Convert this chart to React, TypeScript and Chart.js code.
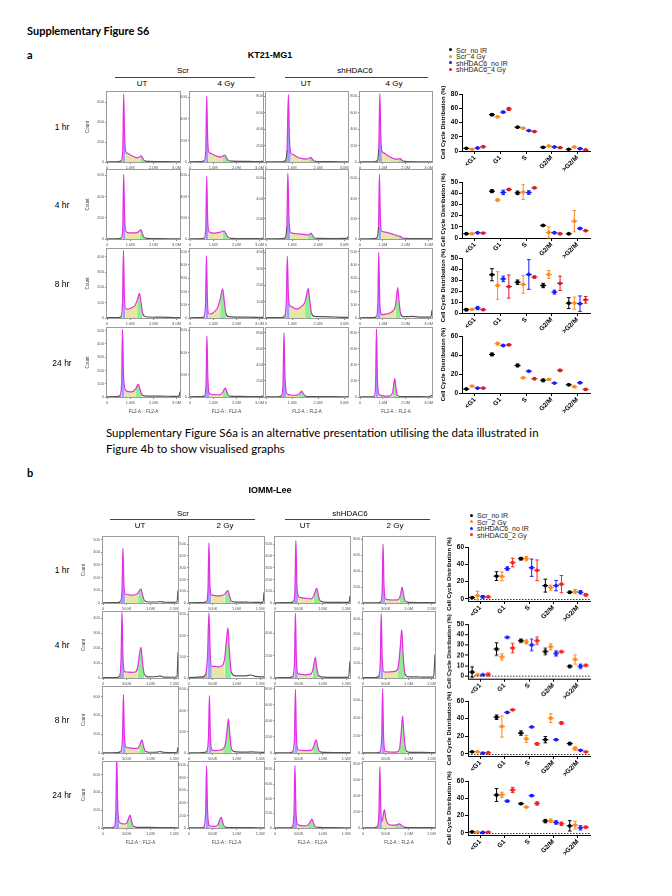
import React, { useEffect, useRef } from "react";
import { Chart, registerables } from "chart.js";

Chart.register(...registerables);
Chart.defaults.font.family = "'Liberation Sans', Arial, sans-serif";

// ---------------- labels ----------------
const phases = ["<G1", "G1", "S", "G2/M", ">G2/M"];
const groupsA = ["Scr_no IR", "Scr_4 Gy", "shHDAC6_no IR", "shHDAC6_4 Gy"];
const groupsB = ["Scr_no IR", "Scr_2 Gy", "shHDAC6_no IR", "shHDAC6_2 Gy"];
const timepoints = ["1 hr", "4 hr", "8 hr", "24 hr"];
const xTicksA = [0, 1, 2, 3]; // millions
const xTicksB = [0, 0.5, 1.0, 1.5]; // millions

// ---------------- KT21-MG1 histograms: [FL2-A (M), count] ----------------
const kt_1h_ScrUT = [[0,2],[0.5,3],[0.62,15],[0.68,120],[0.72,680],[0.76,260],[0.8,110],[0.9,85],[1.0,70],[1.15,55],[1.3,42],[1.4,50],[1.47,62],[1.53,45],[1.6,15],[1.75,6],[2.2,4],[3.0,2],[3.15,2]];
const kt_1h_Scr4Gy = [[0,2],[0.5,3],[0.62,15],[0.68,110],[0.72,615],[0.76,240],[0.8,100],[0.9,80],[1.0,70],[1.15,55],[1.3,45],[1.42,55],[1.5,65],[1.56,45],[1.65,15],[1.8,8],[2.2,6],[2.8,4],[3.15,3]];
const kt_1h_shUT = [[0,2],[0.6,3],[0.74,15],[0.81,150],[0.86,820],[0.9,300],[0.95,110],[1.05,90],[1.2,60],[1.4,40],[1.55,35],[1.65,45],[1.72,55],[1.78,35],[1.85,12],[2.0,6],[2.5,4],[3.15,2]];
const kt_1h_sh4Gy = [[0,2],[0.6,3],[0.75,15],[0.82,160],[0.87,830],[0.91,300],[0.96,130],[1.05,110],[1.2,80],[1.4,50],[1.55,35],[1.68,35],[1.74,45],[1.8,30],[1.9,10],[2.1,5],[2.6,3],[3.15,2]];
const kt_4h_ScrUT = [[0,2],[0.5,3],[0.62,12],[0.68,110],[0.72,610],[0.76,220],[0.8,80],[0.9,60],[1.0,58],[1.15,57],[1.3,60],[1.4,75],[1.46,88],[1.52,55],[1.6,15],[1.75,5],[2.2,3],[3.15,2]];
const kt_4h_Scr4Gy = [[0,2],[0.5,3],[0.62,12],[0.68,100],[0.72,590],[0.76,200],[0.8,80],[0.9,60],[1.0,55],[1.15,58],[1.3,65],[1.4,72],[1.47,75],[1.55,50],[1.65,15],[1.8,6],[2.3,4],[3.15,2]];
const kt_4h_shUT = [[0,2],[0.6,3],[0.73,12],[0.8,120],[0.84,650],[0.88,220],[0.93,70],[1.05,55],[1.25,50],[1.45,45],[1.6,40],[1.68,48],[1.73,57],[1.79,35],[1.86,10],[2.0,6],[2.6,5],[3.1,6],[3.15,25]];
const kt_4h_sh4Gy = [[0,2],[0.6,3],[0.74,12],[0.81,120],[0.85,640],[0.89,220],[0.94,80],[1.05,70],[1.2,62],[1.4,50],[1.55,38],[1.68,30],[1.75,28],[1.82,15],[1.95,6],[2.4,4],[3.15,3]];
const kt_8h_ScrUT = [[0,2],[0.5,3],[0.6,10],[0.67,100],[0.71,440],[0.75,150],[0.8,60],[0.9,58],[1.0,62],[1.1,70],[1.2,80],[1.3,115],[1.36,145],[1.4,160],[1.46,110],[1.54,30],[1.65,8],[2.0,5],[2.3,6],[3.0,3],[3.15,3]];
const kt_8h_Scr4Gy = [[0,2],[0.5,3],[0.6,10],[0.67,110],[0.71,470],[0.75,140],[0.8,35],[0.9,30],[1.0,40],[1.1,55],[1.2,80],[1.3,140],[1.37,200],[1.41,220],[1.47,140],[1.55,35],[1.65,10],[2.0,7],[2.5,6],[3.15,3]];
const kt_8h_shUT = [[0,2],[0.6,3],[0.72,15],[0.78,100],[0.82,375],[0.86,140],[0.91,75],[1.0,68],[1.1,58],[1.2,55],[1.3,62],[1.4,75],[1.5,100],[1.57,150],[1.62,180],[1.67,120],[1.75,30],[1.85,10],[2.2,8],[2.6,6],[3.0,4],[3.15,4]];
const kt_8h_sh4Gy = [[0,2],[0.6,3],[0.72,12],[0.78,110],[0.82,495],[0.86,150],[0.91,35],[1.0,25],[1.15,30],[1.3,38],[1.45,55],[1.55,90],[1.61,180],[1.65,230],[1.7,140],[1.78,30],[1.9,10],[2.3,12],[2.7,6],[3.1,6],[3.15,60]];
const kt_24h_ScrUT = [[0,2],[0.45,3],[0.56,12],[0.63,100],[0.67,510],[0.71,180],[0.76,70],[0.85,45],[0.95,40],[1.05,38],[1.15,45],[1.25,65],[1.32,90],[1.36,95],[1.42,60],[1.5,20],[1.6,8],[2.0,6],[2.3,7],[3.0,4],[3.1,5],[3.15,40]];
const kt_24h_Scr4Gy = [[0,2],[0.5,3],[0.62,10],[0.69,100],[0.73,550],[0.77,180],[0.82,40],[0.9,25],[1.0,22],[1.15,20],[1.3,22],[1.42,45],[1.49,75],[1.53,80],[1.59,45],[1.67,12],[1.8,6],[2.2,5],[3.0,3],[3.15,3]];
const kt_24h_shUT = [[0,2],[0.45,3],[0.58,10],[0.65,130],[0.69,800],[0.73,250],[0.78,60],[0.85,30],[0.95,25],[1.1,22],[1.25,30],[1.32,55],[1.37,72],[1.42,50],[1.5,15],[1.6,6],[2.0,5],[3.0,3],[3.15,3]];
const kt_24h_sh4Gy = [[0,2],[0.5,3],[0.62,10],[0.68,130],[0.72,850],[0.76,250],[0.81,45],[0.9,20],[1.0,15],[1.15,12],[1.3,15],[1.42,50],[1.48,160],[1.52,230],[1.57,120],[1.63,25],[1.75,6],[2.1,5],[3.0,3],[3.15,20]];

const ktHist = [
  [kt_1h_ScrUT, kt_1h_Scr4Gy, kt_1h_shUT, kt_1h_sh4Gy],
  [kt_4h_ScrUT, kt_4h_Scr4Gy, kt_4h_shUT, kt_4h_sh4Gy],
  [kt_8h_ScrUT, kt_8h_Scr4Gy, kt_8h_shUT, kt_8h_sh4Gy],
  [kt_24h_ScrUT, kt_24h_Scr4Gy, kt_24h_shUT, kt_24h_sh4Gy],
];
// phase gates: [debris end, G1 end, S end, G2 end]
const ktGates = [
  [[0.66,0.8,1.38,1.62],[0.66,0.8,1.38,1.66],[0.8,0.95,1.62,1.85],[0.81,0.96,1.64,1.88]],
  [[0.66,0.8,1.36,1.62],[0.66,0.8,1.36,1.66],[0.79,0.93,1.64,1.86],[0.8,0.94,1.64,1.9]],
  [[0.65,0.8,1.28,1.55],[0.65,0.8,1.26,1.56],[0.76,0.9,1.48,1.76],[0.76,0.9,1.52,1.8]],
  [[0.6,0.75,1.22,1.5],[0.66,0.81,1.38,1.68],[0.62,0.78,1.26,1.52],[0.66,0.81,1.42,1.64]],
];
const ktYMax = [[700,650,850,850],[650,650,680,680],[450,520,420,520],[520,620,860,860]];
const ktYStep = [[200,200,200,200],[200,200,200,200],[100,100,100,100],[100,200,200,200]];

// ---------------- IOMM-Lee histograms ----------------
const io_1h_ScrUT = [[0,2],[0.3,3],[0.37,15],[0.4,100],[0.42,430],[0.44,150],[0.47,70],[0.52,65],[0.6,62],[0.68,65],[0.74,80],[0.78,105],[0.8,110],[0.83,70],[0.87,20],[0.95,8],[1.15,8],[1.2,12],[1.3,6],[1.5,5],[1.56,8],[1.58,100]];
const io_1h_Scr2Gy = [[0,2],[0.3,3],[0.37,15],[0.4,110],[0.42,510],[0.44,160],[0.47,70],[0.52,65],[0.6,60],[0.68,62],[0.75,75],[0.8,100],[0.82,105],[0.85,65],[0.89,18],[0.97,8],[1.2,8],[1.4,5],[1.56,6],[1.58,90]];
const io_1h_shUT = [[0,2],[0.32,3],[0.39,15],[0.42,110],[0.44,530],[0.46,170],[0.49,60],[0.55,45],[0.65,40],[0.75,35],[0.81,55],[0.85,100],[0.88,125],[0.91,70],[0.95,20],[1.02,8],[1.3,6],[1.56,5],[1.58,60]];
const io_1h_sh2Gy = [[0,2],[0.32,3],[0.39,15],[0.42,150],[0.44,740],[0.46,230],[0.49,55],[0.55,42],[0.65,38],[0.75,40],[0.8,60],[0.84,150],[0.86,200],[0.89,100],[0.93,20],[1.0,8],[1.3,6],[1.58,4]];
const io_4h_ScrUT = [[0,2],[0.28,3],[0.35,15],[0.38,120],[0.4,440],[0.42,150],[0.45,45],[0.5,40],[0.6,38],[0.68,40],[0.73,70],[0.77,160],[0.8,205],[0.83,110],[0.87,25],[0.95,8],[1.15,10],[1.2,14],[1.28,6],[1.5,5],[1.56,8],[1.58,170]];
const io_4h_Scr2Gy = [[0,2],[0.28,5],[0.35,18],[0.39,100],[0.42,305],[0.45,100],[0.48,55],[0.55,55],[0.62,52],[0.7,58],[0.75,90],[0.79,180],[0.82,235],[0.85,130],[0.89,30],[0.97,10],[1.2,10],[1.3,14],[1.4,8],[1.58,5]];
const io_4h_shUT = [[0,2],[0.3,3],[0.37,15],[0.41,130],[0.43,580],[0.45,180],[0.48,40],[0.55,32],[0.65,28],[0.73,32],[0.79,60],[0.83,150],[0.85,185],[0.88,90],[0.92,20],[1.0,8],[1.3,6],[1.55,6],[1.58,150]];
const io_4h_sh2Gy = [[0,2],[0.28,3],[0.35,15],[0.38,120],[0.4,440],[0.42,150],[0.45,45],[0.5,40],[0.6,42],[0.7,45],[0.77,70],[0.82,220],[0.85,330],[0.88,160],[0.92,30],[1.0,8],[1.2,8],[1.3,6],[1.55,6],[1.58,160]];
const io_8h_ScrUT = [[0,2],[0.3,3],[0.37,15],[0.41,150],[0.43,620],[0.45,200],[0.48,65],[0.55,55],[0.65,48],[0.73,50],[0.78,90],[0.82,140],[0.85,80],[0.89,20],[0.97,8],[1.15,10],[1.2,16],[1.27,8],[1.5,5],[1.56,8],[1.58,60]];
const io_8h_Scr2Gy = [[0,2],[0.3,3],[0.37,15],[0.41,140],[0.43,540],[0.45,170],[0.48,30],[0.55,22],[0.65,28],[0.72,40],[0.77,90],[0.81,250],[0.83,320],[0.86,170],[0.9,30],[0.98,10],[1.2,8],[1.3,10],[1.58,5]];
const io_8h_shUT = [[0,2],[0.3,3],[0.37,15],[0.41,180],[0.43,790],[0.45,230],[0.48,45],[0.55,32],[0.65,30],[0.75,32],[0.8,60],[0.84,130],[0.87,160],[0.9,80],[0.94,18],[1.02,8],[1.3,6],[1.58,4]];
const io_8h_sh2Gy = [[0,2],[0.3,3],[0.37,12],[0.41,170],[0.43,730],[0.45,210],[0.48,25],[0.55,12],[0.65,10],[0.75,12],[0.8,40],[0.84,250],[0.87,420],[0.9,200],[0.94,30],[1.02,8],[1.3,6],[1.58,4]];
const io_24h_ScrUT = [[0,2],[0.18,3],[0.24,15],[0.27,200],[0.29,800],[0.31,250],[0.34,70],[0.4,50],[0.45,45],[0.5,55],[0.54,110],[0.57,145],[0.6,80],[0.64,20],[0.72,8],[1.0,6],[1.2,5],[1.58,3]];
const io_24h_Scr2Gy = [[0,2],[0.25,3],[0.31,15],[0.35,250],[0.37,990],[0.39,300],[0.42,50],[0.48,28],[0.55,25],[0.6,40],[0.65,130],[0.68,170],[0.71,90],[0.75,20],[0.82,8],[1.0,6],[1.3,5],[1.58,3]];
const io_24h_shUT = [[0,2],[0.3,3],[0.36,15],[0.4,200],[0.42,850],[0.44,250],[0.47,55],[0.53,35],[0.6,28],[0.68,35],[0.74,80],[0.78,120],[0.81,70],[0.85,18],[0.92,8],[1.2,5],[1.58,3]];
const io_24h_sh2Gy = [[0,2],[0.25,3],[0.31,15],[0.35,200],[0.37,760],[0.39,250],[0.42,80],[0.45,180],[0.47,230],[0.5,120],[0.55,50],[0.62,35],[0.7,35],[0.76,45],[0.8,52],[0.85,30],[0.9,10],[1.0,6],[1.3,5],[1.58,3]];

const ioHist = [
  [io_1h_ScrUT, io_1h_Scr2Gy, io_1h_shUT, io_1h_sh2Gy],
  [io_4h_ScrUT, io_4h_Scr2Gy, io_4h_shUT, io_4h_sh2Gy],
  [io_8h_ScrUT, io_8h_Scr2Gy, io_8h_shUT, io_8h_sh2Gy],
  [io_24h_ScrUT, io_24h_Scr2Gy, io_24h_shUT, io_24h_sh2Gy],
];
const ioGates = [
  [[0.39,0.47,0.73,0.87],[0.39,0.47,0.74,0.89],[0.41,0.49,0.79,0.95],[0.41,0.49,0.79,0.93]],
  [[0.37,0.45,0.72,0.88],[0.38,0.47,0.74,0.9],[0.4,0.48,0.77,0.93],[0.37,0.45,0.76,0.92]],
  [[0.4,0.48,0.76,0.9],[0.4,0.48,0.74,0.9],[0.4,0.48,0.79,0.95],[0.4,0.48,0.79,0.95]],
  [[0.26,0.34,0.5,0.65],[0.34,0.42,0.6,0.76],[0.39,0.47,0.7,0.86],[0.34,0.42,0.72,0.9]],
];
const ioYMax = [[520,560,560,830],[440,310,590,450],[700,620,820,750],[740,1050,900,820]];
const ioYStep = [[100,100,100,200],[100,100,200,100],[200,200,200,200],[200,200,200,200]];

// ---------------- Cell cycle distribution (%) : mean per group x phase ----------------
// groups order: Scr_no IR, Scr_IR, shHDAC6_no IR, shHDAC6_IR ; phases order as `phases`
const kt1hMean = [[3.8,51,33.4,5.2,2.4],[2.4,48,32,7,5.6],[4.2,54.6,28.7,5.6,3.3],[6,59,27.3,4.7,1.4]];
const kt1hSD = [[0.5,1.5,1,0.8,0.5],[0.3,0.5,0.5,0.5,0.4],[0.4,1.2,0.6,0.6,0.5],[0.5,2.2,0.6,0.5,0.4]];
const kt4hMean = [[3.8,41.8,40.3,11.2,3.8],[3.8,33.9,41,5,15],[4.7,40.7,40.6,4.7,8.5],[4.4,43.3,44.8,3.8,6.5]];
const kt4hSD = [[0.3,1.3,1.6,0.6,0.3],[0.3,1,6.5,5,9.5],[0.4,2,1.6,0.6,0.5],[0.3,0.8,0.5,0.6,0.4]];
const kt8hMean = [[3,34.8,28,25,9],[3.3,25,26,35,9],[4.5,31,35,19,8.5],[3,24,32.7,27,12]];
const kt8hSD = [[1,5.5,2,2,5],[0.7,12.5,8,3.5,5.5],[1.5,2.5,13.5,1.8,7],[0.4,10.5,1,6.5,3]];
const kt24hMean = [[4.2,40.6,29,13.3,8.7],[7.3,52,16,14.3,6.6],[5.2,50,23,10.5,10.8],[5.2,50.7,15,23.8,3.8]];
const kt24hSD = [[0.4,1.5,1.5,1.5,0.5],[0.4,1.5,0.5,0.8,0.4],[0.4,0.5,0.5,0.4,0.5],[0.4,0.8,0.3,1.2,0.6]];

const io1hMean = [[1.5,26.3,46.5,15.3,7.6],[3.8,26,46.5,13,8.4],[2.3,35,36,15.3,7.6],[2.3,42,33,17,4.6]];
const io1hSD = [[0.5,5,1.5,7.5,1],[5,5,2.5,3,2.5],[1.5,2,10,6,2],[1,5,12,10,1.5]];
const io4hMean = [[3.9,26,34,23.7,9.4],[1.3,18.5,33,28.2,16],[1.3,37.3,30,21.8,9.4],[1.6,27,34,23.4,10.4]];
const io4hSD = [[5,6,1.5,3,1],[0.5,3,2,3,4.5],[0.5,0.5,5.5,2.5,2],[1.5,4.5,3.5,1,0.5]];
const io8hMean = [[2.3,41.6,23.6,16,11.6],[2.2,31,17,40.5,6],[0.8,47,30.5,16,4],[1.2,50,11.3,35,2.2]];
const io8hSD = [[0.5,2.5,2.5,3.5,1.5],[0.8,12,4,5,2],[0.3,1,0.5,0.5,0.4],[0.4,0.5,1.5,1.5,0.5]];
const io24hMean = [[1.2,43.8,33.7,13.6,8.1],[0.8,44,29.8,14,9],[0.4,36.8,43,12,5.8],[0.8,49.6,34,10.5,6.6]];
const io24hSD = [[0.4,7.5,0.5,2,6],[0.3,3,0.5,2,4.5],[0.2,1,1,2,2.5],[0.3,3,2,2,1]];

const ktDistMax = [80, 50, 50, 60];
const ktDistStep = [20, 10, 10, 10];
const ioDistMax = [60, 50, 60, 60];
const ioDistStep = [20, 10, 20, 20];

// ---------------- styling / layout ----------------
const colorsA = ["#000000", "#ff8a1c", "#1c1cff", "#d81e2a"];
const colorsB = ["#000000", "#ff8a1c", "#1c1cff", "#ff2020"];
const groupOffsets = [-0.33, -0.11, 0.11, 0.33];

const colsA = [{ l: 107, w: 73 }, { l: 190, w: 73 }, { l: 266, w: 82 }, { l: 360, w: 72 }];
const rowsA = [{ t: 92, h: 70 }, { t: 170, h: 69 }, { t: 249, h: 69 }, { t: 328, h: 69 }];
const colsB = [{ l: 103, w: 75 }, { l: 189, w: 75 }, { l: 275, w: 75 }, { l: 363, w: 72 }];
const rowsB = [{ t: 537, h: 66 }, { t: 612, h: 66 }, { t: 687, h: 66 }, { t: 762, h: 66 }];
const distA = [{ top: 94, zero: 151 }, { top: 182, zero: 238 }, { top: 258, zero: 313 }, { top: 336, zero: 393 }];
const distB = [{ top: 547, zero: 599 }, { top: 624, zero: 676 }, { top: 701, zero: 754 }, { top: 781, zero: 833 }];

function phaseFill(x: number, g: number[]) {
  if (x < g[0]) return "rgba(105,105,105,0.55)";
  if (x < g[1]) return "rgba(100,100,255,0.62)";
  if (x < g[2]) return "rgba(214,214,112,0.62)";
  if (x < g[3]) return "rgba(104,228,104,0.72)";
  return "rgba(0,0,0,0)";
}

const boxPlugin = {
  id: "box",
  afterDraw(chart: any) {
    const { ctx, chartArea: a } = chart;
    ctx.save();
    ctx.strokeStyle = "#9c9c9c";
    ctx.lineWidth = 1;
    ctx.strokeRect(Math.round(a.left) - 0.5, Math.round(a.top) - 0.5, Math.round(a.right - a.left) + 1, Math.round(a.bottom - a.top) + 1);
    ctx.restore();
  },
};

function fmtA(v: number) {
  return v === 0 ? "0" : v.toFixed(1) + "M";
}
function fmtB(v: number) {
  if (v === 0) return "0";
  if (v < 1) return Math.round(v * 1000) + "K";
  return v.toFixed(1) + "M";
}

function Histogram(props: any) {
  const { pts, gates, yMax, yStep, box, xMax, xTicks, xFmt, showCount, showXTitle } = props;
  const ref = useRef<HTMLCanvasElement>(null);
  const padL = showCount ? 22 : 15;
  const padT = 4;
  const padR = 3;
  const xh = showXTitle ? 17 : 9;
  const W = padL + box.w + padR;
  const H = padT + box.h + xh;
  useEffect(() => {
    const chart = new Chart(ref.current as HTMLCanvasElement, {
      type: "line",
      data: {
        datasets: [
          {
            data: pts.map((p: number[]) => ({ x: p[0], y: p[1] })),
            borderColor: "#e42ee4",
            borderWidth: 1.2,
            pointRadius: 0,
            fill: "origin",
            backgroundColor: "rgba(0,0,0,0)",
            cubicInterpolationMode: "monotone",
            segment: {
              backgroundColor: (c: any) => phaseFill((c.p0.parsed.x + c.p1.parsed.x) / 2, gates),
              borderColor: (c: any) => {
                const m = (c.p0.parsed.x + c.p1.parsed.x) / 2;
                return m < gates[0] - 0.02 || m > gates[3] ? "#555555" : "#e42ee4";
              },
            },
          } as any,
        ],
      },
      options: {
        responsive: false,
        animation: false,
        events: [],
        layout: { padding: { left: 0, top: padT, right: padR, bottom: 0 }, autoPadding: false } as any,
        plugins: { legend: { display: false }, tooltip: { enabled: false } },
        scales: {
          x: {
            type: "linear",
            min: 0,
            max: xMax,
            afterBuildTicks: (axis: any) => {
              axis.ticks = xTicks.map((v: number) => ({ value: v }));
            },
            afterFit: (s: any) => {
              s.height = xh;
            },
            ticks: { font: { size: 4 }, color: "#555", padding: 1, maxRotation: 0, autoSkip: false, callback: (v: any) => xFmt(Number(v)) },
            grid: { drawOnChartArea: false, tickLength: 2, color: "#888" },
            border: { display: false },
            title: { display: showXTitle, text: "FL2-A :: FL2-A", font: { size: 4.5 }, color: "#444", padding: { top: 2, bottom: 0 } },
          },
          y: {
            min: 0,
            max: yMax,
            afterBuildTicks: (axis: any) => {
              const t: any[] = [];
              for (let v = 0; v <= yMax; v += yStep) t.push({ value: v });
              axis.ticks = t;
            },
            afterFit: (s: any) => {
              s.width = padL;
            },
            ticks: { autoSkip: false, font: { size: 4 }, color: "#555", padding: 1, callback: (v: any) => String(Math.round(Number(v))) },
            grid: { drawOnChartArea: false, tickLength: 2, color: "#888" },
            border: { display: false },
            title: { display: showCount, text: "Count", font: { size: 4.5 }, color: "#444", padding: { top: 0, bottom: 1 } },
          },
        },
      },
      plugins: [boxPlugin],
    });
    return () => chart.destroy();
  }, []);
  return (
    <canvas
      ref={ref}
      width={W}
      height={H}
      style={{ position: "absolute", left: box.l - padL, top: box.t - padT, width: W, height: H }}
    />
  );
}

function DistPlot(props: any) {
  const { means, sds, yMax, yStep, axisX, axisRight, top, zero, colors, zeroLine } = props;
  const ref = useRef<HTMLCanvasElement>(null);
  const yMin = zeroLine ? -2.5 : 0;
  const bottom = zero + ((zero - top) * -yMin) / yMax;
  const yw = 22;
  const padT = 10;
  const padR = 6;
  const xh = 30;
  const W = yw + (axisRight - axisX) + padR;
  const H = padT + (bottom - top) + xh;
  useEffect(() => {
    const errPlugin = {
      id: "err",
      afterDatasetsDraw(chart: any) {
        const { ctx, scales } = chart;
        const xs = scales.x;
        const ys = scales.y;
        ctx.save();
        if (zeroLine) {
          const y0 = Math.round(ys.getPixelForValue(0)) + 0.5;
          ctx.strokeStyle = "#333";
          ctx.lineWidth = 1;
          ctx.setLineDash([1.5, 1.5]);
          ctx.beginPath();
          ctx.moveTo(chart.chartArea.left, y0);
          ctx.lineTo(chart.chartArea.right, y0);
          ctx.stroke();
          ctx.setLineDash([]);
        }
        means.forEach((row: number[], gi: number) => {
          ctx.strokeStyle = colors[gi];
          ctx.lineWidth = 1;
          row.forEach((m: number, ci: number) => {
            const s = sds[gi][ci];
            const x = xs.getPixelForValue(ci + groupOffsets[gi]);
            const yt = ys.getPixelForValue(m + s);
            const yb = ys.getPixelForValue(Math.max(m - s, yMin));
            const ym = ys.getPixelForValue(m);
            ctx.beginPath();
            ctx.moveTo(x, yt);
            ctx.lineTo(x, yb);
            ctx.moveTo(x - 1.8, yt);
            ctx.lineTo(x + 1.8, yt);
            ctx.moveTo(x - 1.8, yb);
            ctx.lineTo(x + 1.8, yb);
            ctx.stroke();
            ctx.lineWidth = 1.2;
            ctx.beginPath();
            ctx.moveTo(x - 3, ym);
            ctx.lineTo(x + 3, ym);
            ctx.stroke();
            ctx.lineWidth = 1;
          });
        });
        ctx.restore();
      },
    };
    const chart = new Chart(ref.current as HTMLCanvasElement, {
      type: "scatter",
      data: {
        datasets: means.map((row: number[], gi: number) => ({
          data: row.map((m: number, ci: number) => ({ x: ci + groupOffsets[gi], y: m })),
          backgroundColor: colors[gi],
          borderColor: colors[gi],
          pointRadius: 1.9,
          borderWidth: 0,
        })),
      },
      options: {
        responsive: false,
        animation: false,
        events: [],
        layout: { padding: { left: 0, top: padT, right: padR, bottom: 0 }, autoPadding: false } as any,
        plugins: { legend: { display: false }, tooltip: { enabled: false } },
        scales: {
          x: {
            type: "linear",
            min: -0.5,
            max: 4.5,
            afterBuildTicks: (axis: any) => {
              axis.ticks = phases.map((_, i) => ({ value: i }));
            },
            afterFit: (s: any) => {
              s.height = xh;
            },
            ticks: {
              autoSkip: false,
              minRotation: 45,
              maxRotation: 45,
              padding: 0,
              color: "#000",
              font: { size: 6.5, weight: "bold" },
              callback: (v: any) => phases[Number(v)],
            },
            grid: { drawOnChartArea: false, tickLength: 3, color: "#000" },
            border: { display: true, color: "#000", width: 1 },
          },
          y: {
            min: yMin,
            max: yMax,
            afterBuildTicks: (axis: any) => {
              const t: any[] = [];
              for (let v = 0; v <= yMax + 1e-6; v += yStep) t.push({ value: v });
              axis.ticks = t;
            },
            afterFit: (s: any) => {
              s.width = yw;
            },
            ticks: { color: "#000", font: { size: 6.5, weight: "bold" }, padding: 1 },
            grid: { drawOnChartArea: false, tickLength: 3, color: "#000" },
            border: { display: true, color: "#000", width: 1 },
            title: {
              display: true,
              text: "Cell Cycle Distribution (%)",
              color: "#000",
              font: { size: 5.9, weight: "bold" },
              padding: { top: 0, bottom: 1 },
            },
          },
        },
      },
      plugins: [errPlugin],
    });
    return () => chart.destroy();
  }, []);
  return (
    <canvas
      ref={ref}
      width={W}
      height={H}
      style={{ position: "absolute", left: axisX - yw, top: top - padT, width: W, height: H }}
    />
  );
}

function Txt(props: any) {
  const { x, y, size, bold, anchor, font, color, children } = props;
  const tx = anchor === "start" ? "0" : "-50%";
  return (
    <div
      style={{
        position: "absolute",
        left: x,
        top: y,
        transform: `translate(${tx}, -50%)`,
        fontSize: size,
        fontWeight: bold ? 700 : 400,
        fontFamily: font || "'Liberation Sans', Arial, sans-serif",
        color: color || "#000",
        whiteSpace: "nowrap",
        lineHeight: 1,
      }}
    >
      {children}
    </div>
  );
}

function Legend(props: any) {
  const { names, colors, x, ys } = props;
  return (
    <>
      {names.map((n: string, i: number) => (
        <React.Fragment key={n}>
          <div style={{ position: "absolute", left: x - 1.5, top: ys[i] - 1.5, width: 3, height: 3, borderRadius: 2, background: colors[i] }} />
          <Txt x={x + 6} y={ys[i]} size={7} anchor="start" color="#222">
            {n}
          </Txt>
        </React.Fragment>
      ))}
    </>
  );
}

function Section(props: any) {
  const { hist, gates, yMaxes, ySteps, cols, rows, xMax, xTicks, xFmt, means, sds, distMax, distStep, dist, axisX, colors, zeroLine } = props;
  return (
    <>
      {rows.map((r: any, ri: number) => (
        <React.Fragment key={"r" + ri}>
          <Txt x={62} y={r.t + r.h / 2} size={8.5}>
            {timepoints[ri]}
          </Txt>
          {cols.map((c: any, ci: number) => (
            <Histogram
              key={"h" + ri + "_" + ci}
              pts={hist[ri][ci]}
              gates={gates[ri][ci]}
              yMax={yMaxes[ri][ci]}
              yStep={ySteps[ri][ci]}
              box={{ l: c.l, t: r.t, w: c.w, h: r.h }}
              xMax={xMax}
              xTicks={xTicks}
              xFmt={xFmt}
              showCount={ci === 0}
              showXTitle={ri === 3}
            />
          ))}
          <DistPlot
            means={means[ri]}
            sds={sds[ri]}
            yMax={distMax[ri]}
            yStep={distStep[ri]}
            axisX={axisX}
            axisRight={590}
            top={dist[ri].top}
            zero={dist[ri].zero}
            colors={colors}
            zeroLine={zeroLine}
          />
        </React.Fragment>
      ))}
    </>
  );
}

export default function App() {
  const calibri = "Lato, 'Open Sans', sans-serif";
  return (
    <div style={{ position: "absolute", left: 0, top: 0, width: 672, height: 896, background: "#fff", overflow: "hidden" }}>
      <Txt x={27} y={30} size={11} bold anchor="start" font={calibri}>
        Supplementary Figure S6
      </Txt>
      <Txt x={27} y={54} size={11} bold anchor="start" font={calibri}>
        a
      </Txt>
      <Txt x={270} y={55} size={9} bold>
        KT21-MG1
      </Txt>
      <Legend names={groupsA} colors={colorsA} x={450} ys={[49.5, 56, 62.5, 69]} />
      <Txt x={183} y={71} size={8}>Scr</Txt>
      <div style={{ position: "absolute", left: 115, top: 77, width: 140, height: 1, background: "#444" }} />
      <Txt x={355} y={71} size={8}>shHDAC6</Txt>
      <div style={{ position: "absolute", left: 285, top: 77, width: 143, height: 1, background: "#444" }} />
      <Txt x={142} y={84} size={8}>UT</Txt>
      <Txt x={226} y={84} size={8}>4 Gy</Txt>
      <Txt x={306} y={84} size={8}>UT</Txt>
      <Txt x={394} y={84} size={8}>4 Gy</Txt>

      <Section
        hist={ktHist}
        gates={ktGates}
        yMaxes={ktYMax}
        ySteps={ktYStep}
        cols={colsA}
        rows={rowsA}
        xMax={3.15}
        xTicks={xTicksA}
        xFmt={fmtA}
        means={[kt1hMean, kt4hMean, kt8hMean, kt24hMean]}
        sds={[kt1hSD, kt4hSD, kt8hSD, kt24hSD]}
        distMax={ktDistMax}
        distStep={ktDistStep}
        dist={distA}
        axisX={462}
        colors={colorsA}
        zeroLine={false}
      />

      <Txt x={106} y={433} size={11.5} anchor="start" font={calibri}>
        Supplementary Figure S6a is an alternative presentation utilising the data illustrated in
      </Txt>
      <Txt x={106} y={449} size={11.5} anchor="start" font={calibri}>
        Figure 4b to show visualised graphs
      </Txt>

      <Txt x={27} y={472} size={11} bold anchor="start" font={calibri}>
        b
      </Txt>
      <Txt x={270} y={490} size={9} bold>
        IOMM-Lee
      </Txt>
      <Legend names={groupsB} colors={colorsB} x={471} ys={[515, 521.5, 528, 534.5]} />
      <Txt x={183} y={514} size={8}>Scr</Txt>
      <div style={{ position: "absolute", left: 110, top: 519, width: 145, height: 1, background: "#444" }} />
      <Txt x={350} y={514} size={8}>shHDAC6</Txt>
      <div style={{ position: "absolute", left: 285, top: 519, width: 145, height: 1, background: "#444" }} />
      <Txt x={140} y={526} size={8}>UT</Txt>
      <Txt x={225} y={526} size={8}>2 Gy</Txt>
      <Txt x={305} y={526} size={8}>UT</Txt>
      <Txt x={395} y={526} size={8}>2 Gy</Txt>

      <Section
        hist={ioHist}
        gates={ioGates}
        yMaxes={ioYMax}
        ySteps={ioYStep}
        cols={colsB}
        rows={rowsB}
        xMax={1.58}
        xTicks={xTicksB}
        xFmt={fmtB}
        means={[io1hMean, io4hMean, io8hMean, io24hMean]}
        sds={[io1hSD, io4hSD, io8hSD, io24hSD]}
        distMax={ioDistMax}
        distStep={ioDistStep}
        dist={distB}
        axisX={468}
        colors={colorsB}
        zeroLine={true}
      />
    </div>
  );
}
